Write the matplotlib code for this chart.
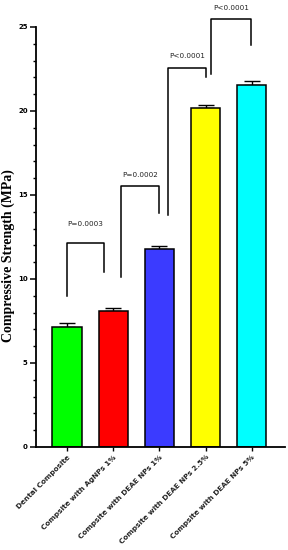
import numpy as np
import matplotlib.pyplot as plt
from matplotlib.ticker import FixedLocator

groups = ['Dental Composite', 'Compsite with AgNPs 1%', 'Compsite with DEAE NPs 1%',
          'Compsite with DEAE NPs 2.5%', 'Compsite with DEAE NPs 5%']
means = [7.13, 8.1, 11.77, 20.16, 21.55]
errs = [0.26, 0.2, 0.22, 0.2, 0.25]
colors = ['#00ff00', '#ff0000', '#3b3bff', '#ffff00', '#00ffff']

# brackets: left x, right x, top y, left leg bottom, right leg bottom, text, text y
brackets = [
    (0.0, 0.80, 12.14, 9.0, 10.4, 'P=0.0003', 13.1),
    (1.16, 1.99, 15.55, 10.1, 13.9, 'P=0.0002', 16.0),
    (2.19, 3.01, 22.58, 13.8, 22.0, 'P<0.0001', 23.1),
    (3.12, 3.99, 25.48, 22.2, 23.93, 'P<0.0001', 25.96),
]

fig = plt.figure(figsize=(2.88, 5.5), dpi=100)
ax = fig.add_axes([0.125, 0.1873, 0.865, 0.8095])

x = np.arange(len(groups))
ax.bar(x, means, width=0.63, color=colors, edgecolor='black', linewidth=1.1, zorder=2)
ax.errorbar(x, means, yerr=[np.zeros(len(errs)), errs], fmt='none', ecolor='black',
            elinewidth=1.0, capsize=5.5, capthick=1.0, zorder=1)

for xl, xr, top, bl, br, txt, ty in brackets:
    ax.plot([xl, xl, xr, xr], [bl, top, top, br], color='black', lw=1.1, clip_on=False)
    ax.text((xl + xr) / 2, ty, txt, ha='center', va='bottom', fontsize=5.2,
            family='DejaVu Sans', color='#222222')

ax.set_xlim(-0.67, 4.72)
ax.set_ylim(0, 26.5)
ax.spines['top'].set_visible(False)
ax.spines['right'].set_visible(False)
ax.spines['left'].set_bounds(0, 25)
ax.spines['left'].set_linewidth(1.3)
ax.spines['bottom'].set_linewidth(1.3)

ax.set_yticks([0, 5, 10, 15, 20, 25])
ax.yaxis.set_minor_locator(FixedLocator([v for v in range(26) if v % 5]))
ax.tick_params(axis='y', which='major', length=4, width=1.1, labelsize=5, pad=2)
ax.tick_params(axis='y', which='minor', length=2.5, width=1.0)
for lab in ax.get_yticklabels():
    lab.set_fontweight('bold')

ax.set_xticks(x)
ax.set_xticklabels(groups, rotation=45, ha='right', rotation_mode='anchor',
                   fontsize=5.2, fontweight='bold', color='#222222')
ax.tick_params(axis='x', length=3, width=1.0, pad=2)

ax.set_ylabel('Compressive Strength (MPa)', family='Liberation Serif', fontweight='bold',
              fontsize=10, labelpad=4)
ax.yaxis.set_label_coords(-0.085, 0.43)

fig.savefig('out.png', dpi=100)
